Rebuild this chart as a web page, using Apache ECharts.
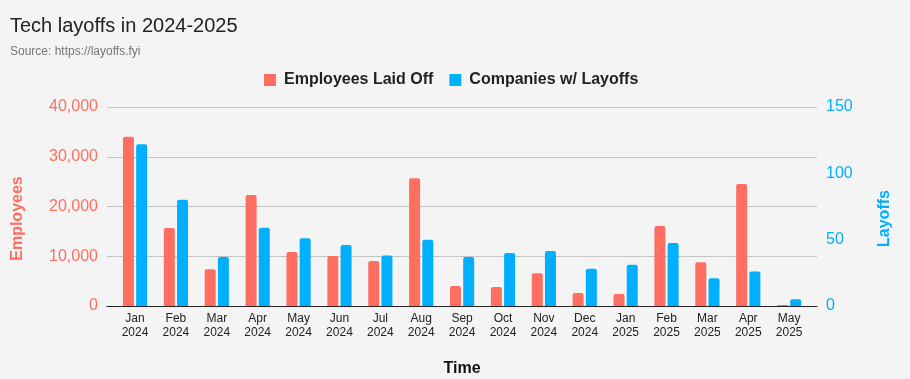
<!DOCTYPE html>
<html><head><meta charset="utf-8">
<script src="https://cdn.jsdelivr.net/npm/echarts@6/dist/echarts.min.js"></script>
<style>html,body{margin:0;padding:0;background:#f4f4f4}#c{width:910px;height:379px}</style>
</head><body><div id="c"></div>
<script>
const categories = ["Jan\n2024","Feb\n2024","Mar\n2024","Apr\n2024","May\n2024","Jun\n2024","Jul\n2024","Aug\n2024","Sep\n2024","Oct\n2024","Nov\n2024","Dec\n2024","Jan\n2025","Feb\n2025","Mar\n2025","Apr\n2025","May\n2025"];
const employeesLaidOff = [34000,15700,7400,22300,10850,10050,9050,25700,4000,3800,6600,2600,2400,16100,8800,24500,200];
const companiesWithLayoffs = [122,80,37,59,51,46,38,50,37,40,41.5,28,31,47.5,21,26,5];
const leftTicks = {min:0,max:40000,interval:10000};
const rightTicks = {min:0,max:150,interval:50};

const RED = '#ff6f61', BLUE = '#00b0ff';
const chart = echarts.init(document.getElementById('c'), null, {renderer:'canvas'});
const ff = '"Liberation Sans", Arial, sans-serif';
chart.setOption({
  backgroundColor:'#f4f4f4',
  textStyle:{fontFamily:ff},
  animation:false,
  title:{text:'Tech layoffs in 2024-2025', subtext:'Source: https://layoffs.fyi', left:5, top:11,
    textStyle:{fontSize:20,fontWeight:'normal',color:'#222',fontFamily:ff},
    subtextStyle:{fontSize:12,color:'#777',fontFamily:ff}, itemGap:10},
  legend:{top:72, left:264, itemWidth:12, itemHeight:12, itemGap:16, icon:'rect', padding:0,
    textStyle:{fontSize:16,fontWeight:'bold',color:'#222',fontFamily:ff, padding:[0,0,0,3]},
    data:['Employees Laid Off','Companies w/ Layoffs']},
  grid:[
    {left:107, right:93, top:107, bottom:73, outerBoundsMode:'none', containLabel:false},
    {left:114.6, right:100.4, top:107, bottom:73, outerBoundsMode:'none', containLabel:false}
  ],
  xAxis:[
    {type:'category', gridIndex:0, data:categories, axisLine:{lineStyle:{color:'#222',width:1}},
     axisTick:{show:false}, axisLabel:{show:false},
     name:'Time', nameLocation:'middle', nameGap:55,
     nameTextStyle:{fontSize:16,fontWeight:'bold',color:'#111',fontFamily:ff}},
    {type:'category', gridIndex:1, data:categories, axisLine:{show:false}, axisTick:{show:false},
     axisLabel:{fontSize:12,color:'#222',margin:6,lineHeight:14,interval:0,fontFamily:ff}}
  ],
  yAxis:[
    {type:'value', gridIndex:0, position:'left', ...leftTicks,
     axisLabel:{fontSize:16,color:RED,margin:9,fontFamily:ff, formatter:v=>v.toLocaleString('en-US')},
     splitLine:{lineStyle:{color:'#c4c4c4',width:1}}, axisLine:{show:false}, axisTick:{show:false},
     name:'Employees', nameLocation:'middle', nameGap:81,
     nameTextStyle:{fontSize:16,fontWeight:'bold',color:RED,fontFamily:ff,padding:[0,24,0,0]}},
    {type:'value', gridIndex:0, position:'right', ...rightTicks,
     axisLabel:{fontSize:16,color:BLUE,margin:9,fontFamily:ff},
     splitLine:{show:false}, axisLine:{show:false}, axisTick:{show:false},
     name:'Layoffs', nameLocation:'middle', nameGap:60,
     nameTextStyle:{fontSize:16,fontWeight:'bold',color:BLUE,fontFamily:ff,padding:[0,24,0,0]}},
    {type:'value', gridIndex:1, ...leftTicks, show:false, splitLine:{show:false}},
    {type:'value', gridIndex:1, ...rightTicks, show:false, splitLine:{show:false}}
  ],
  series:[
    {name:'Employees Laid Off', type:'bar', xAxisIndex:1, yAxisIndex:2, data:employeesLaidOff,
     barWidth:11, barGap:'20%', itemStyle:{color:RED, borderRadius:[2,2,0,0]}},
    {name:'Companies w/ Layoffs', type:'bar', xAxisIndex:1, yAxisIndex:3, data:companiesWithLayoffs,
     barWidth:11, barGap:'20%', itemStyle:{color:BLUE, borderRadius:[2,2,0,0]}}
  ]
});
</script></body></html>
